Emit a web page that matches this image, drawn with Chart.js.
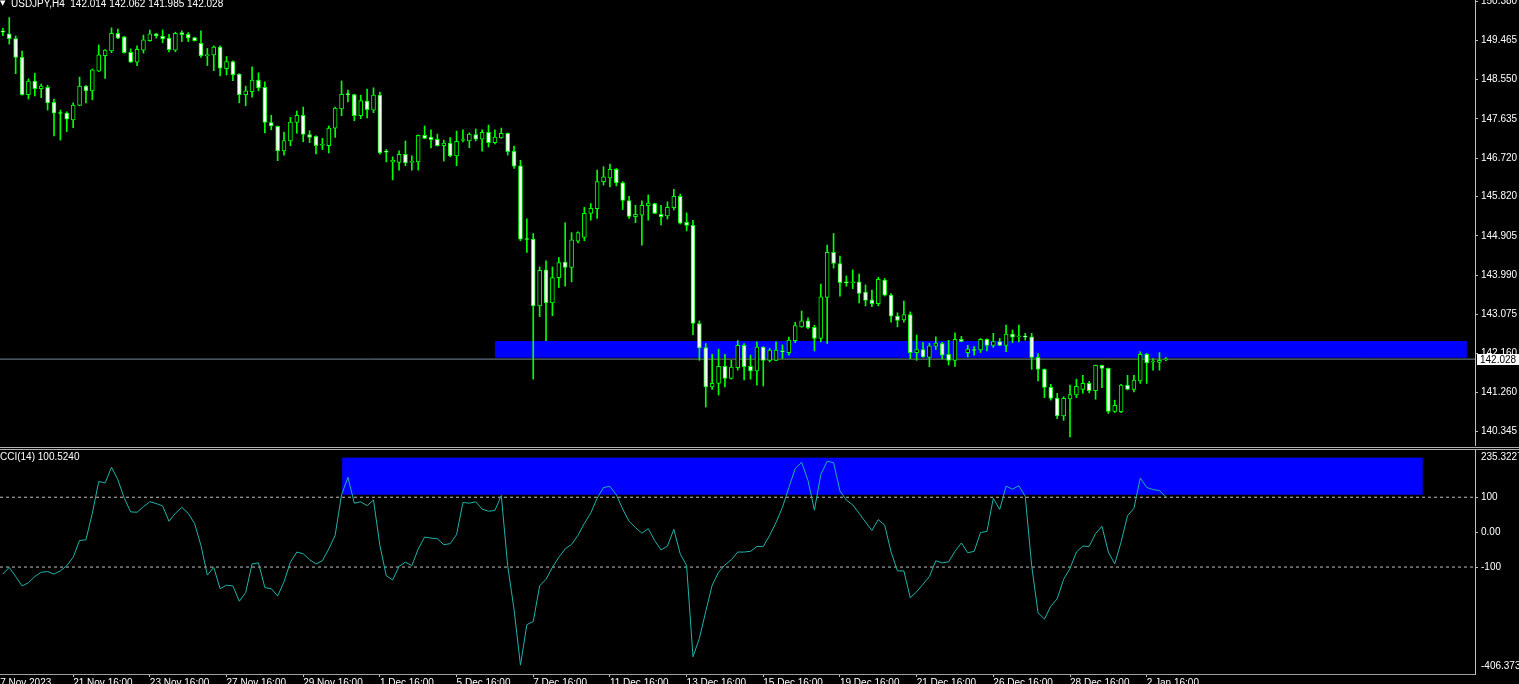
<!DOCTYPE html>
<html>
<head>
<meta charset="utf-8">
<title>USDJPY,H4</title>
<script src="https://cdn.jsdelivr.net/npm/chart.js@4.4.1/dist/chart.umd.min.js"></script>
<style>
  html, body { margin: 0; padding: 0; background: #000; width: 1519px; height: 684px; overflow: hidden; }
  #wrap { position: relative; width: 1519px; height: 684px; font-family: "Liberation Sans", Arial, sans-serif; font-size: 10px; color: #fff; }
  canvas { position: absolute; left: 0; }
  #price { top: 0; }
  #cci { top: 450px; }
  .sep { position: absolute; left: 0; width: 1519px; height: 1px; background: #b0b0b0; }
  .lbl { position: absolute; line-height: 10px; white-space: pre; }
  .tri { position: absolute; left: 0; top: 0; font-size: 7px; line-height: 7px; font-family: "DejaVu Sans", sans-serif; }
</style>
</head>
<body>
<div id="wrap">
  <canvas id="price" width="1519" height="446"></canvas>
  <div class="sep" style="top:447px"></div>
  <div class="sep" style="top:449px"></div>
  <canvas id="cci" width="1519" height="234"></canvas>
  <span class="tri">▼</span>
  <div class="lbl" id="title" style="left:11px;top:-1px"></div>
  <div class="lbl" id="cciTitle" style="left:0;top:452px"></div>
</div>
<script>
// USDJPY H4 candles (bar 0 = 17 Nov 20:00)
const opens = [
  149.67, 149.62, 149.51, 149.07, 148.20, 148.52, 148.34, 148.37, 148.02, 147.77,
  147.77, 147.61, 147.95, 148.40, 148.29, 148.75, 149.11, 149.22, 149.63, 149.55,
  149.19, 148.96, 149.24, 149.46, 149.62, 149.57, 149.52, 149.24, 149.65, 149.61,
  149.53, 149.40, 149.11, 149.13, 149.31, 148.81, 148.97, 148.68, 148.20, 148.27,
  148.54, 148.37, 147.55, 147.46, 146.89, 147.12, 147.55, 147.72, 147.27, 147.23,
  147.02, 147.01, 147.42, 147.87, 148.21, 148.20, 147.71, 148.05, 147.84, 148.19,
  146.87, 146.63, 146.62, 146.81, 146.62, 146.63, 147.25, 147.21, 147.16, 147.01,
  147.07, 146.77, 147.13, 147.12, 147.27, 147.16, 147.32, 147.08, 147.19, 147.30,
  146.88, 146.54, 144.83, 144.83, 143.27, 144.11, 143.34, 143.93, 144.29, 144.17,
  144.78, 144.87, 145.43, 145.54, 146.17, 146.26, 146.46, 146.14, 145.73, 145.35,
  145.39, 145.61, 145.66, 145.41, 145.37, 145.56, 145.83, 145.22, 145.15, 142.86,
  142.30, 141.38, 141.46, 141.86, 141.58, 141.83, 142.35, 141.86, 141.75, 142.31,
  142.00, 142.00, 142.21, 142.18, 142.46, 142.78, 142.92, 142.77, 142.51, 143.47,
  144.52, 144.26, 143.82, 143.81, 143.83, 143.59, 143.41, 143.32, 143.87, 143.52,
  143.03, 142.94, 143.07, 142.18, 142.25, 142.07, 142.33, 142.39, 142.14, 142.00,
  142.49, 142.18, 142.24, 142.24, 142.49, 142.35, 142.44, 142.35, 142.61, 142.55,
  142.55, 142.55, 142.07, 141.79, 141.37, 141.12, 140.70, 141.10, 141.19, 141.32,
  141.46, 141.29, 141.88, 141.81, 140.81, 140.80, 141.42, 141.32, 141.52, 142.14,
  141.96, 141.95, 142.014
];
const highs = [
  149.75, 150.00, 149.57, 149.22, 148.57, 148.70, 148.45, 148.42, 148.10, 147.84,
  147.80, 148.01, 148.61, 148.41, 148.80, 149.36, 149.25, 149.76, 149.73, 149.56,
  149.27, 149.34, 149.59, 149.71, 149.63, 149.71, 149.61, 149.66, 149.69, 149.65,
  149.54, 149.69, 149.28, 149.34, 149.34, 149.09, 148.99, 148.69, 148.40, 148.85,
  148.71, 148.50, 147.72, 147.47, 147.33, 147.67, 147.82, 147.91, 147.36, 147.24,
  147.18, 147.47, 147.91, 148.52, 148.31, 148.21, 148.19, 148.33, 148.36, 148.26,
  146.92, 146.75, 146.89, 147.12, 146.77, 147.26, 147.47, 147.38, 147.28, 147.14,
  147.20, 147.35, 147.38, 147.31, 147.40, 147.38, 147.49, 147.38, 147.42, 147.31,
  147.00, 146.67, 145.30, 144.96, 144.18, 144.32, 144.18, 144.40, 145.21, 144.98,
  145.00, 145.57, 145.66, 146.44, 146.52, 146.58, 146.48, 146.17, 145.83, 145.62,
  145.72, 145.86, 145.67, 145.62, 145.70, 145.99, 145.88, 145.44, 145.27, 142.92,
  142.39, 142.14, 142.26, 142.14, 142.00, 142.46, 142.39, 142.12, 142.43, 142.32,
  142.28, 142.43, 142.36, 142.54, 142.89, 143.15, 142.99, 142.82, 143.78, 144.69,
  144.96, 144.43, 143.97, 144.11, 144.01, 143.76, 143.64, 143.94, 143.91, 143.56,
  143.11, 143.38, 143.13, 142.59, 142.42, 142.40, 142.55, 142.42, 142.47, 142.64,
  142.56, 142.35, 142.32, 142.51, 142.50, 142.63, 142.51, 142.82, 142.71, 142.82,
  142.63, 142.63, 142.16, 141.80, 141.44, 141.23, 141.15, 141.42, 141.56, 141.65,
  141.51, 141.89, 141.89, 141.82, 141.07, 141.44, 141.65, 141.65, 142.20, 142.16,
  142.04, 142.18, 142.062
];
const lows = [
  149.58, 149.38, 148.69, 148.19, 148.10, 148.17, 148.13, 147.84, 147.24, 147.14,
  147.34, 147.43, 147.94, 148.01, 148.08, 148.74, 148.58, 149.18, 149.51, 149.17,
  148.95, 148.88, 149.17, 149.45, 149.52, 149.41, 149.20, 149.20, 149.44, 149.44,
  149.45, 149.07, 148.88, 148.76, 148.64, 148.66, 148.53, 148.01, 147.94, 148.14,
  148.29, 147.31, 147.38, 146.66, 146.79, 147.01, 147.30, 147.10, 147.08, 146.82,
  146.92, 146.84, 147.20, 147.71, 148.03, 147.59, 147.64, 147.66, 147.78, 146.81,
  146.63, 146.21, 146.44, 146.54, 146.44, 146.44, 147.17, 146.96, 147.00, 146.65,
  146.75, 146.54, 147.10, 146.96, 147.12, 146.88, 146.98, 147.05, 147.18, 146.79,
  146.48, 144.79, 144.52, 141.56, 143.02, 142.46, 143.04, 143.70, 143.73, 143.83,
  144.74, 144.79, 145.27, 145.31, 146.09, 146.05, 146.07, 145.52, 145.31, 145.21,
  144.69, 145.27, 145.42, 145.16, 145.30, 145.51, 145.18, 145.02, 142.60, 142.00,
  140.91, 141.32, 141.19, 141.38, 141.56, 141.77, 141.54, 141.56, 141.42, 141.40,
  141.96, 141.99, 142.04, 142.12, 142.41, 142.77, 142.74, 142.22, 142.43, 142.39,
  144.15, 143.50, 143.73, 143.67, 143.34, 143.27, 143.25, 143.27, 143.50, 142.89,
  142.78, 142.89, 142.04, 142.00, 142.07, 141.85, 142.25, 142.03, 141.89, 141.86,
  142.43, 142.08, 142.12, 142.18, 142.22, 142.30, 142.34, 142.20, 142.41, 142.43,
  142.47, 141.79, 141.52, 141.13, 141.07, 140.64, 140.60, 140.21, 141.13, 141.23,
  141.24, 141.09, 141.36, 140.76, 140.78, 140.78, 141.31, 141.26, 141.46, 141.46,
  141.77, 141.77, 141.985
];
const closes = [
  149.66, 149.51, 149.07, 148.20, 148.52, 148.34, 148.40, 148.01, 147.77, 147.76,
  147.63, 147.96, 148.40, 148.29, 148.78, 149.13, 149.24, 149.63, 149.52, 149.18,
  148.96, 149.26, 149.48, 149.62, 149.57, 149.50, 149.25, 149.63, 149.60, 149.52,
  149.46, 149.11, 149.13, 149.31, 148.82, 148.97, 148.66, 148.20, 148.29, 148.54,
  148.36, 147.55, 147.47, 146.89, 147.13, 147.56, 147.72, 147.27, 147.20, 147.01,
  147.03, 147.42, 147.89, 148.21, 148.20, 147.71, 148.06, 147.85, 148.19, 146.84,
  146.86, 146.67, 146.81, 146.61, 146.63, 147.25, 147.18, 147.15, 147.01, 147.07,
  146.77, 147.11, 147.14, 147.28, 147.16, 147.32, 147.08, 147.21, 147.30, 146.87,
  146.53, 144.83, 144.82, 143.27, 144.10, 143.34, 143.93, 144.28, 144.17, 144.81,
  144.98, 145.43, 145.55, 146.17, 146.28, 146.46, 146.14, 145.73, 145.36, 145.41,
  145.62, 145.67, 145.43, 145.35, 145.57, 145.83, 145.20, 145.15, 142.86, 142.29,
  141.38, 141.46, 141.86, 141.58, 141.84, 142.35, 141.85, 141.75, 142.31, 142.00,
  142.24, 142.24, 142.20, 142.47, 142.81, 142.92, 142.76, 142.51, 143.48, 144.52,
  144.26, 143.81, 143.81, 143.83, 143.56, 143.40, 143.32, 143.89, 143.52, 143.03,
  142.93, 143.07, 142.18, 142.25, 142.08, 142.34, 142.40, 142.12, 142.00, 142.49,
  142.44, 142.26, 142.23, 142.49, 142.35, 142.44, 142.35, 142.61, 142.54, 142.56,
  142.54, 142.07, 141.79, 141.37, 141.11, 140.70, 141.11, 141.20, 141.39, 141.46,
  141.29, 141.88, 141.81, 140.81, 140.95, 141.42, 141.32, 141.54, 142.14, 141.94,
  141.97, 142.00, 142.028
];
// CCI(14) per bar
const cci = [
  -120, -101, -127, -154, -145, -127, -115, -113, -120, -111,
  -96, -72, -24, -22, 54, 145, 141, 186, 150, 97,
  58, 57, 73, 87, 82, 75, 31, 54, 71, 54,
  25, -38, -123, -101, -162, -152, -154, -198, -173, -91,
  -88, -159, -162, -183, -142, -86, -57, -62, -79, -91,
  -82, -48, -9, 107, 157, 83, 87, 76, 92, -38,
  -125, -137, -98, -86, -96, -48, -14, -17, -19, -36,
  -33, -7, 85, 83, 87, 66, 60, 62, 105, -96,
  -222, -381, -265, -256, -154, -135, -101, -72, -48, -35,
  -9, 25, 55, 97, 128, 131, 107, 66, 31, 13,
  -3, 10, -24, -51, -40, 8, -62, -96, -357, -304,
  -227, -152, -115, -94, -79, -57, -57, -55, -41, -41,
  -9, 28, 71, 128, 182, 200, 148, 63, 165, 203,
  199, 118, 92, 78, 54, 29, 5, 36, 20, -57,
  -111, -111, -188, -171, -149, -127, -82, -88, -85, -55,
  -31, -59, -55, -1, 2, 97, 65, 132, 123, 133,
  102, -96, -231, -249, -212, -191, -135, -104, -57, -40,
  -41, -4, 17, -57, -91, -28, 47, 68, 155, 128,
  122, 119, 100.524
];

// time axis labels (bar index where each label starts)
const timeTickIdx = [-1.3, 11, 23, 35, 47, 59, 71, 83, 95, 107, 119, 131, 143, 155, 167, 179];
const timeLabels = ['17 Nov 2023', '21 Nov 16:00', '23 Nov 16:00', '27 Nov 16:00', '29 Nov 16:00',
  '1 Dec 16:00', '5 Dec 16:00', '7 Dec 16:00', '11 Dec 16:00', '13 Dec 16:00', '15 Dec 16:00',
  '19 Dec 16:00', '21 Dec 16:00', '26 Dec 16:00', '28 Dec 16:00', '2 Jan 16:00'];

// price axis
const priceTicks = [150.380, 149.465, 148.550, 147.635, 146.720, 145.820, 144.905, 143.990, 143.075, 142.160, 141.260, 140.345];
const priceMin = 140.00, priceMax = 150.41;

// cci axis: top/bottom labels sit just inside the window
const cciMin = -406.373, cciMax = 235.3227;
const cciTickPos = [213.8, 100, 0, -100, -385.5];
const cciTickText = ['235.3227', '100', '0.00', '-100', '-406.373'];
const cciLevels = [100, -100];

// blue rectangles: [fromBar, toBar, low, high]
const priceZone = [77.0, 229.1, 142.06, 142.45];
const cciZone = [53.1, 222.2, 107.3, 213.3];

// visible bar range of the window
const xMin = -0.45, xMax = 230.38;

const FONT = 'Liberation Sans, Arial, sans-serif';
Chart.defaults.font.family = FONT;
Chart.defaults.font.size = 10;
Chart.defaults.color = '#ffffff';

const idx = opens.map((_, i) => i);
const last = opens.length - 1;

document.getElementById('title').textContent =
  'USDJPY,H4  ' + [opens[last], highs[last], lows[last], closes[last]].map(v => v.toFixed(3)).join(' ');
document.getElementById('cciTitle').textContent = 'CCI(14) ' + cci[last].toFixed(4);

function zonePlugin(zone) {
  return {
    id: 'zone',
    beforeDatasetsDraw(chart) {
      const { ctx, scales: { x, y } } = chart;
      const x0 = x.getPixelForValue(zone[0]);
      const x1 = x.getPixelForValue(zone[1]);
      const y0 = y.getPixelForValue(zone[3]);
      const y1 = y.getPixelForValue(zone[2]);
      ctx.save();
      ctx.fillStyle = '#0000ff';
      ctx.fillRect(x0, y0, x1 - x0, y1 - y0);
      ctx.restore();
    }
  };
}

// white box with the last price on the axis
const priceTag = {
  id: 'priceTag',
  afterDraw(chart) {
    const { ctx, chartArea, scales: { y } } = chart;
    const py = Math.round(y.getPixelForValue(closes[last]));
    ctx.save();
    ctx.fillStyle = '#ffffff';
    ctx.fillRect(chartArea.right + 2, py - 5, 42, 11);
    ctx.fillStyle = '#000000';
    ctx.font = '10px ' + FONT;
    ctx.textBaseline = 'middle';
    ctx.fillText(closes[last].toFixed(3), chartArea.right + 5, py + 1);
    ctx.restore();
  }
};

const commonOpts = {
  responsive: false,
  animation: false,
  devicePixelRatio: 1,
  events: [],
  layout: { padding: 0, autoPadding: false },
  plugins: { legend: { display: false }, tooltip: { enabled: false } }
};

new Chart(document.getElementById('price'), {
  type: 'bar',
  plugins: [zonePlugin(priceZone), priceTag],
  data: {
    datasets: [
      {
        type: 'line',
        data: [{ x: xMin, y: closes[last] }, { x: xMax, y: closes[last] }],
        borderColor: '#778899',
        borderWidth: 1,
        pointRadius: 0,
        order: 4
      },
      {
        data: idx.map(i => ({ x: i, y: [lows[i], highs[i]] })),
        backgroundColor: '#00ff00',
        borderWidth: 0,
        barThickness: 1,
        grouped: false,
        order: 3
      },
      {
        data: idx.map(i => ({ x: i, y: [opens[i], closes[i]] })),
        backgroundColor: idx.map(i => closes[i] < opens[i] ? '#ffffff' : '#000000'),
        borderColor: '#00ff00',
        borderWidth: 1,
        borderSkipped: false,
        barThickness: 4,
        minBarLength: 1,
        grouped: false,
        order: 2
      }
    ]
  },
  options: {
    ...commonOpts,
    scales: {
      x: { type: 'linear', min: xMin, max: xMax, display: false, offset: false, grid: { offset: false } },
      y: {
        position: 'right',
        min: priceMin,
        max: priceMax,
        afterBuildTicks: s => { s.ticks = priceTicks.map(v => ({ value: v })); },
        afterFit: s => { s.width = 44; s.paddingTop = 0; s.paddingBottom = 0; },
        ticks: { autoSkip: false, padding: 3, callback: v => v.toFixed(3) },
        grid: { drawOnChartArea: false, drawTicks: true, tickLength: 3, color: '#c0c0c0' },
        border: { display: true, color: '#c0c0c0', width: 1 }
      }
    }
  }
});

new Chart(document.getElementById('cci'), {
  type: 'line',
  plugins: [zonePlugin(cciZone)],
  data: {
    datasets: [
      ...cciLevels.map(lv => ({
        data: [{ x: xMin, y: lv }, { x: xMax, y: lv }],
        borderColor: '#c0c0c0',
        borderWidth: 1,
        borderDash: [3, 3],
        pointRadius: 0,
        order: 2
      })),
      {
        data: idx.map(i => ({ x: i, y: cci[i] })),
        borderColor: '#20b2aa',
        borderWidth: 1,
        pointRadius: 0,
        tension: 0,
        order: 1
      }
    ]
  },
  options: {
    ...commonOpts,
    scales: {
      x: {
        type: 'linear',
        min: xMin,
        max: xMax,
        position: 'bottom',
        afterBuildTicks: s => { s.ticks = timeTickIdx.map(v => ({ value: v })); },
        afterFit: s => { s.height = 10; s.paddingLeft = 0; s.paddingRight = 0; },
        ticks: { autoSkip: false, align: 'start', maxRotation: 0, minRotation: 0, padding: 0, callback: (v, i) => timeLabels[i] },
        grid: { drawOnChartArea: false, tickLength: 3, color: c => c.index === 0 ? 'rgba(0,0,0,0)' : '#c0c0c0' },
        border: { display: true, color: '#a0a0a0', width: 1 }
      },
      y: {
        position: 'right',
        min: cciMin,
        max: cciMax,
        afterBuildTicks: s => { s.ticks = cciTickPos.map(v => ({ value: v })); },
        afterFit: s => { s.width = 44; s.paddingTop = 0; s.paddingBottom = 0; },
        ticks: { autoSkip: false, padding: 3, callback: (v, i) => cciTickText[i] },
        grid: { drawOnChartArea: false, tickLength: 3, color: c => (c.index === 0 || c.index === 4) ? 'rgba(0,0,0,0)' : '#c0c0c0' },
        border: { display: true, color: '#c0c0c0', width: 1 }
      }
    }
  }
});
</script>
</body>
</html>
